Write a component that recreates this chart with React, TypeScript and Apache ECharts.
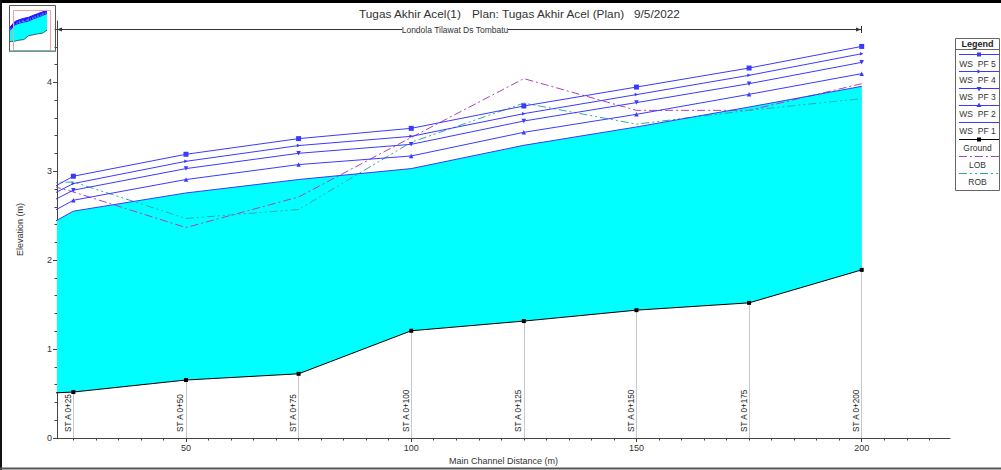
import React, { useEffect, useRef } from 'react';
import * as echarts from 'echarts';

// ---- data (main channel distance in m, elevations in m) ----
const distances = [0, 25, 50, 75, 100, 125, 150, 175, 200];
const stationNames = ['ST A 0+0', 'ST A 0+25', 'ST A 0+50', 'ST A 0+75', 'ST A 0+100', 'ST A 0+125', 'ST A 0+150', 'ST A 0+175', 'ST A 0+200'];
const wsPF5 = [2.25, 2.944, 3.191, 3.367, 3.483, 3.734, 3.947, 4.161, 4.404];
const wsPF4 = [2.21, 2.862, 3.112, 3.289, 3.393, 3.648, 3.862, 4.079, 4.322];
const wsPF3 = [2.14, 2.787, 3.03, 3.202, 3.303, 3.565, 3.772, 3.985, 4.225];
const wsPF2 = [1.98, 2.674, 2.907, 3.075, 3.172, 3.438, 3.64, 3.865, 4.098];
const wsPF1 = [1.85, 2.551, 2.756, 2.907, 3.03, 3.292, 3.498, 3.722, 3.955];
const ground = [0.46, 0.517, 0.652, 0.722, 1.206, 1.315, 1.438, 1.52, 1.891];
const lob = [3.13, 2.767, 2.367, 2.711, 3.38, 4.042, 3.685, 3.685, 3.985];
const rob = [2.83, 2.88, 2.469, 2.57, 3.326, 3.767, 3.53, 3.685, 3.817];

const xTickLabels = [50, 100, 150, 200];
const yTickLabels = [0, 1, 2, 3, 4];
const legendNames = ['WS  PF 5', 'WS  PF 4', 'WS  PF 3', 'WS  PF 2', 'WS  PF 1', 'Ground', 'LOB', 'ROB'];

const titleMain = 'Tugas Akhir Acel(1)';
const titlePlan = 'Plan: Tugas Akhir Acel (Plan)';
const titleDate = '9/5/2022';
const reachName = 'Londola Tilawat Ds Tombatu';
const xName = 'Main Channel Distance (m)';
const yName = 'Elevation (m)';

// ---- axis ranges ----
const X_MIN = 21.37;
const X_MAX = 219.6;
const Y_MIN = 0;
const Y_MAX = 4.69;

const xMinorTicks: number[] = [];
for (let v = 25; v <= X_MAX; v += 5) xMinorTicks.push(v);
const yMinorTicks: number[] = [];
for (let i = 1; i * 0.2 <= Y_MAX; i++) yMinorTicks.push(Math.round(i * 2) / 10);

const FONT = '"Liberation Sans", Arial, Helvetica, sans-serif';
const BLUE = '#3a3aff';
const LOB_COLOR = '#b040b8';
const ROB_COLOR = '#30a8a8';
const LOB_DASH = [8, 3, 2, 3];
const ROB_DASH = [8, 3, 2, 3, 2, 3];

const pairs = (vals: number[]) => distances.map((d, i) => [d, vals[i]]);

// water polygon between ground and WS PF 1, drawn through the axis scales
const waterRenderItem = (fill: string) => (_params: any, api: any) => {
  const top = distances.map((d, i) => api.coord([d, wsPF1[i]]));
  const bottom = distances.map((d, i) => api.coord([d, ground[i]])).reverse();
  return {
    type: 'polygon',
    shape: { points: top.concat(bottom) },
    style: { fill, stroke: 'none' },
    silent: true,
  };
};

function buildOption() {
  const lineSeries = (name: string, vals: number[], color: string, symbol: string, size: number, rotate: number, z: number, dash: any = 'solid', xi = 0, yi = 0) => ({
    type: 'line',
    name,
    data: pairs(vals),
    xAxisIndex: xi,
    yAxisIndex: yi,
    symbol,
    symbolSize: size,
    symbolRotate: rotate,
    showSymbol: symbol !== 'none',
    lineStyle: { color, width: 1, type: dash },
    itemStyle: { color },
    z,
    silent: true,
    clip: true,
  });

  const stationLines = distances
    .map((d, i) => ({ d, i }))
    .filter(({ d }) => d >= X_MIN)
    .map(({ d, i }) => [
      { coord: [d, Y_MIN], name: stationNames[i] },
      { coord: [d, wsPF1[i]] },
    ]);

  const series: any[] = [
    {
      type: 'line',
      name: 'stations',
      data: pairs(ground),
      symbol: 'none',
      lineStyle: { width: 0, opacity: 0 },
      z: 1,
      silent: true,
      markLine: {
        z: 1,
        zlevel: 0,
        silent: true,
        symbol: ['none', 'none'],
        lineStyle: { color: '#c8c8c8', width: 1, type: 'solid' },
        label: {
          show: true,
          position: 'insideStartTop',
          formatter: '{b}',
          fontSize: 8.2,
          fontFamily: FONT,
          color: '#222',
          distance: [6, 1],
        },
        emphasis: { disabled: true },
        data: stationLines,
      },
    },
    {
      type: 'custom',
      name: 'water',
      xAxisIndex: 0,
      yAxisIndex: 0,
      data: [[distances[0], wsPF1[0]]],
      renderItem: waterRenderItem('#00ffff'),
      clip: true,
      z: 2,
      silent: true,
    },
    lineSeries('Ground', ground, '#000000', 'rect', 4, 0, 3),
    lineSeries('LOB', lob, LOB_COLOR, 'none', 0, 0, 3, LOB_DASH),
    lineSeries('ROB', rob, ROB_COLOR, 'none', 0, 0, 3, ROB_DASH),
    lineSeries('WS PF 1', wsPF1, BLUE, 'none', 0, 0, 4),
    lineSeries('WS PF 2', wsPF2, BLUE, 'triangle', 4.5, 0, 4),
    lineSeries('WS PF 3', wsPF3, BLUE, 'triangle', 4.5, 180, 4),
    lineSeries('WS PF 4', wsPF4, BLUE, 'triangle', 3.5, -90, 4),
    lineSeries('WS PF 5', wsPF5, BLUE, 'rect', 5, 0, 4),
    // thumbnail (overview) plot
    {
      type: 'custom',
      name: 'twater',
      xAxisIndex: 2,
      yAxisIndex: 2,
      data: [[distances[0], wsPF1[0]]],
      renderItem: waterRenderItem('#00ffff'),
      clip: true,
      z: 2,
      silent: true,
    },
    {
      type: 'line', name: 'tground', data: pairs(ground), xAxisIndex: 2, yAxisIndex: 2,
      symbol: 'none', lineStyle: { color: '#2a6a6a', width: 1 }, z: 3, silent: true,
    },
    ...[wsPF1, wsPF2, wsPF3, wsPF4, wsPF5].map((v, k) => ({
      type: 'line', name: 'tws' + k, data: pairs(v), xAxisIndex: 2, yAxisIndex: 2,
      symbol: 'none', lineStyle: { color: '#1010ff', width: 1 }, z: 3, silent: true,
    })),
  ];

  // ---- legend drawn as graphics ----
  const LX = 955.5, LW = 44, LY = 38.5;
  const lineY = (i: number) => 54.5 + 17 * i;
  const textY = (i: number) => 63.5 + 16.9 * i;
  const mcx = 979;
  const legendStyles = [
    { color: BLUE, dash: null, marker: 'square' },
    { color: BLUE, dash: null, marker: 'right' },
    { color: BLUE, dash: null, marker: 'down' },
    { color: BLUE, dash: null, marker: 'up' },
    { color: BLUE, dash: null, marker: 'none' },
    { color: '#000', dash: null, marker: 'square' },
    { color: LOB_COLOR, dash: LOB_DASH, marker: 'none' },
    { color: ROB_COLOR, dash: ROB_DASH, marker: 'none' },
  ];
  const legendEls: any[] = [
    { type: 'rect', shape: { x: LX, y: LY, width: LW, height: 152 }, style: { fill: '#fff', stroke: '#666', lineWidth: 1 }, z: 10 },
    { type: 'text', x: LX + LW / 2, y: 44, style: { text: 'Legend', fontSize: 9, fontWeight: 'bold', fontFamily: FONT, fill: '#222', align: 'center', verticalAlign: 'middle', textAlign: 'center', textVerticalAlign: 'middle' }, z: 11 },
    { type: 'line', shape: { x1: LX, y1: 49.5, x2: LX + LW, y2: 49.5 }, style: { stroke: '#666', lineWidth: 1 }, z: 11 },
  ];
  legendNames.forEach((name, i) => {
    const st = legendStyles[i];
    const ly = lineY(i);
    legendEls.push({ type: 'line', shape: { x1: 959, y1: ly, x2: 999, y2: ly }, style: { stroke: st.color, lineWidth: 1, lineDash: st.dash || undefined }, z: 11 });
    if (st.marker === 'square') {
      legendEls.push({ type: 'rect', shape: { x: mcx - 2, y: ly - 2, width: 4, height: 4 }, style: { fill: st.color }, z: 12 });
    } else if (st.marker === 'up') {
      legendEls.push({ type: 'polygon', shape: { points: [[mcx, ly - 3], [mcx - 2.5, ly + 1.5], [mcx + 2.5, ly + 1.5]] }, style: { fill: st.color }, z: 12 });
    } else if (st.marker === 'down') {
      legendEls.push({ type: 'polygon', shape: { points: [[mcx, ly + 3], [mcx - 2.5, ly - 1.5], [mcx + 2.5, ly - 1.5]] }, style: { fill: st.color }, z: 12 });
    } else if (st.marker === 'right') {
      legendEls.push({ type: 'polygon', shape: { points: [[mcx + 2, ly], [mcx - 1.5, ly - 2], [mcx - 1.5, ly + 2]] }, style: { fill: st.color }, z: 12 });
    }
    legendEls.push({ type: 'text', x: LX + LW / 2, y: textY(i), style: { text: name, fontSize: 8.5, fontFamily: FONT, fill: '#333', align: 'center', verticalAlign: 'middle', textAlign: 'center', textVerticalAlign: 'middle' }, z: 11 });
  });

  const titleEls: any[] = [
    { type: 'text', x: 359, y: 14, style: { text: titleMain, fontSize: 11.8, fontFamily: FONT, fill: '#333', verticalAlign: 'middle', textVerticalAlign: 'middle' } },
    { type: 'text', x: 472, y: 14, style: { text: titlePlan, fontSize: 11.8, fontFamily: FONT, fill: '#333', verticalAlign: 'middle', textVerticalAlign: 'middle' } },
    { type: 'text', x: 634, y: 14, style: { text: titleDate, fontSize: 11.8, fontFamily: FONT, fill: '#333', verticalAlign: 'middle', textVerticalAlign: 'middle' } },
    // reach line with arrows
    { type: 'line', shape: { x1: 57, y1: 29.5, x2: 861, y2: 29.5 }, style: { stroke: '#333', lineWidth: 1 } },
    { type: 'polygon', shape: { points: [[57, 29.5], [62, 27.5], [62, 31.5]] }, style: { fill: '#333' } },
    { type: 'polygon', shape: { points: [[861, 29.5], [856, 27.5], [856, 31.5]] }, style: { fill: '#333' } },
    { type: 'line', shape: { x1: 861.5, y1: 26, x2: 861.5, y2: 33 }, style: { stroke: '#333', lineWidth: 1 } },
    { type: 'rect', shape: { x: 402, y: 24, width: 106, height: 11 }, style: { fill: '#fff' } },
    { type: 'text', x: 455, y: 29.5, style: { text: reachName, fontSize: 8.5, fontFamily: FONT, fill: '#333', align: 'center', verticalAlign: 'middle', textAlign: 'center', textVerticalAlign: 'middle' } },
  ];

  const frameEls: any[] = [
    { type: 'rect', shape: { x: 0, y: 0, width: 1001, height: 3 }, style: { fill: '#000' }, z: 20 },
    { type: 'rect', shape: { x: 0, y: 0, width: 2, height: 470 }, style: { fill: '#111' }, z: 20 },
    { type: 'rect', shape: { x: 0, y: 467.5, width: 1001, height: 2 }, style: { fill: '#555' }, z: 20 },
    // thumbnail frame
    { type: 'rect', shape: { x: 9.5, y: 5.5, width: 46, height: 46 }, style: { fill: 'none', stroke: '#555', lineWidth: 1 }, z: 5 },
    { type: 'rect', shape: { x: 13.5, y: 10.5, width: 37, height: 40 }, style: { fill: 'none', stroke: '#f4a0a0', lineWidth: 1 }, z: 5 },
    { type: 'line', shape: { x1: 9.5, y1: 51, x2: 55.5, y2: 51 }, style: { stroke: '#6ab0b0', lineWidth: 1.5 }, z: 5 },
  ];

  const axisLabelStyle = { fontSize: 9, fontFamily: FONT, color: '#333' };

  return {
    animation: false,
    backgroundColor: '#fff',
    textStyle: { fontFamily: FONT },
    grid: [
      { left: 57, top: 21, width: 893, height: 417, outerBoundsMode: 'none', containLabel: false },
      { left: 10, top: 10, width: 37, height: 41, outerBoundsMode: 'none', containLabel: false },
    ],
    xAxis: [
      {
        type: 'value', gridIndex: 0, position: 'bottom', min: X_MIN, max: X_MAX,
        axisLine: { show: true, lineStyle: { color: '#444', width: 1 } },
        axisTick: { show: true, length: 4, customValues: xTickLabels, lineStyle: { color: '#444' } },
        axisLabel: { show: true, customValues: xTickLabels, margin: 5, ...axisLabelStyle },
        splitLine: { show: false },
        name: xName, nameLocation: 'middle', nameGap: 18,
        nameTextStyle: { fontSize: 9, fontFamily: FONT, color: '#333' },
      },
      {
        type: 'value', gridIndex: 0, position: 'bottom', min: X_MIN, max: X_MAX,
        axisLine: { show: false },
        axisTick: { show: true, length: 2.5, customValues: xMinorTicks, lineStyle: { color: '#444' } },
        axisLabel: { show: false },
        splitLine: { show: false },
      },
      { type: 'value', gridIndex: 1, min: 0, max: 200, show: false },
    ],
    yAxis: [
      {
        type: 'value', gridIndex: 0, position: 'left', min: Y_MIN, max: Y_MAX,
        axisLine: { show: true, lineStyle: { color: '#444', width: 1 } },
        axisTick: { show: true, length: 4, customValues: yTickLabels, lineStyle: { color: '#444' } },
        axisLabel: { show: true, customValues: yTickLabels, margin: 5, ...axisLabelStyle },
        splitLine: { show: false },
        name: yName, nameLocation: 'middle', nameGap: 33,
        nameTextStyle: { fontSize: 9, fontFamily: FONT, color: '#333' },
      },
      {
        type: 'value', gridIndex: 0, position: 'left', min: Y_MIN, max: Y_MAX,
        axisLine: { show: false },
        axisTick: { show: true, length: 2.5, customValues: yMinorTicks, lineStyle: { color: '#444' } },
        axisLabel: { show: false },
        splitLine: { show: false },
      },
      { type: 'value', gridIndex: 1, min: -0.7, max: 4.4, show: false },
    ],
    graphic: [...frameEls, ...titleEls, ...legendEls],
    series,
  };
}

export default function App() {
  const ref = useRef<HTMLDivElement>(null);
  useEffect(() => {
    if (!ref.current) return;
    const chart = echarts.init(ref.current, null, { renderer: 'svg' });
    chart.setOption(buildOption() as any);
    return () => chart.dispose();
  }, []);
  return (
    <div
      ref={ref}
      style={{ position: 'absolute', left: 0, top: 0, width: 1001, height: 470, background: '#fff' }}
    />
  );
}
